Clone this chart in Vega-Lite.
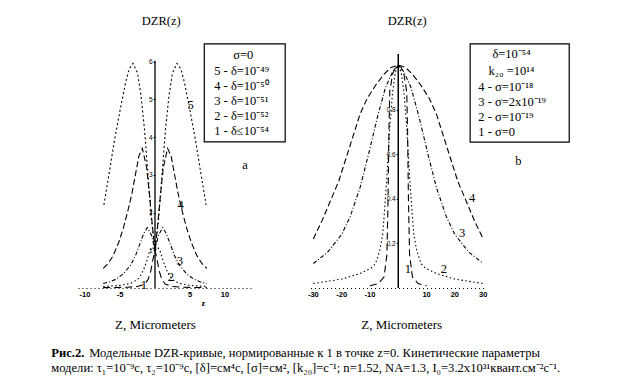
{
  "$schema": "https://vega.github.io/schema/vega-lite/v6.json",
  "background": "white",
  "padding": {"left": 51, "top": 14, "right": 10, "bottom": 10},
  "config": {"view": {"stroke": null}, "font": "Liberation Serif, Times New Roman, serif", "axis": {"grid": false}, "text": {"font": "Liberation Serif, Times New Roman, serif"}},
  "datasets": {
    "one": [{"k": 1}],
    "left": [
      {"z": -7.3, "v": 2.2, "c": "5"}, {"z": -6.5, "v": 3.1, "c": "5"}, {"z": -5.8, "v": 3.9, "c": "5"}, {"z": -5, "v": 4.7, "c": "5"}, {"z": -4.2, "v": 5.45, "c": "5"}, {"z": -3.7, "v": 5.8, "c": "5"}, {"z": -3.15, "v": 5.95, "c": "5"}, {"z": -2.5, "v": 5.7, "c": "5"}, {"z": -2, "v": 5.1, "c": "5"}, {"z": -1.5, "v": 4.2, "c": "5"}, {"z": -1, "v": 3.0, "c": "5"}, {"z": -0.5, "v": 1.8, "c": "5"}, {"z": 0, "v": 1, "c": "5"},
      {"z": 0.5, "v": 1.8, "c": "5"}, {"z": 1, "v": 3.0, "c": "5"}, {"z": 1.5, "v": 4.2, "c": "5"}, {"z": 2, "v": 5.1, "c": "5"}, {"z": 2.5, "v": 5.7, "c": "5"}, {"z": 3.15, "v": 5.95, "c": "5"}, {"z": 3.7, "v": 5.8, "c": "5"}, {"z": 4.2, "v": 5.45, "c": "5"}, {"z": 5, "v": 4.7, "c": "5"}, {"z": 5.8, "v": 3.9, "c": "5"}, {"z": 6.5, "v": 3.1, "c": "5"}, {"z": 7.3, "v": 2.2, "c": "5"},
      {"z": -7.4, "v": 0.52, "c": "4"}, {"z": -6.7, "v": 0.65, "c": "4"}, {"z": -6, "v": 0.85, "c": "4"}, {"z": -5.2, "v": 1.2, "c": "4"}, {"z": -4.5, "v": 1.6, "c": "4"}, {"z": -3.8, "v": 2.1, "c": "4"}, {"z": -3.3, "v": 2.5, "c": "4"}, {"z": -2.8, "v": 3.0, "c": "4"}, {"z": -2.3, "v": 3.5, "c": "4"}, {"z": -1.8, "v": 3.7, "c": "4"}, {"z": -1.2, "v": 3.2, "c": "4"}, {"z": -0.8, "v": 2.5, "c": "4"}, {"z": -0.4, "v": 1.7, "c": "4"}, {"z": 0, "v": 1, "c": "4"},
      {"z": 0.4, "v": 1.7, "c": "4"}, {"z": 0.8, "v": 2.5, "c": "4"}, {"z": 1.2, "v": 3.2, "c": "4"}, {"z": 1.8, "v": 3.7, "c": "4"}, {"z": 2.3, "v": 3.5, "c": "4"}, {"z": 2.8, "v": 3.0, "c": "4"}, {"z": 3.3, "v": 2.5, "c": "4"}, {"z": 3.8, "v": 2.1, "c": "4"}, {"z": 4.5, "v": 1.6, "c": "4"}, {"z": 5.2, "v": 1.2, "c": "4"}, {"z": 6, "v": 0.85, "c": "4"}, {"z": 6.7, "v": 0.65, "c": "4"}, {"z": 7.4, "v": 0.52, "c": "4"},
      {"z": -7.4, "v": 0.12, "c": "3"}, {"z": -6.5, "v": 0.16, "c": "3"}, {"z": -5.5, "v": 0.24, "c": "3"}, {"z": -4.5, "v": 0.38, "c": "3"}, {"z": -3.5, "v": 0.6, "c": "3"}, {"z": -2.8, "v": 0.85, "c": "3"}, {"z": -2.2, "v": 1.15, "c": "3"}, {"z": -1.6, "v": 1.45, "c": "3"}, {"z": -1.1, "v": 1.6, "c": "3"}, {"z": -0.5, "v": 1.4, "c": "3"}, {"z": 0, "v": 1, "c": "3"},
      {"z": 0.5, "v": 1.4, "c": "3"}, {"z": 1.1, "v": 1.6, "c": "3"}, {"z": 1.6, "v": 1.45, "c": "3"}, {"z": 2.2, "v": 1.15, "c": "3"}, {"z": 2.8, "v": 0.85, "c": "3"}, {"z": 3.5, "v": 0.6, "c": "3"}, {"z": 4.5, "v": 0.38, "c": "3"}, {"z": 5.5, "v": 0.24, "c": "3"}, {"z": 6.5, "v": 0.16, "c": "3"}, {"z": 7.4, "v": 0.12, "c": "3"},
      {"z": -7.4, "v": 0.04, "c": "2"}, {"z": -5, "v": 0.07, "c": "2"}, {"z": -3.5, "v": 0.12, "c": "2"}, {"z": -2.5, "v": 0.22, "c": "2"}, {"z": -2, "v": 0.35, "c": "2"}, {"z": -1.6, "v": 0.5, "c": "2"}, {"z": -1.2, "v": 0.7, "c": "2"}, {"z": -0.8, "v": 0.95, "c": "2"}, {"z": -0.4, "v": 1.08, "c": "2"}, {"z": 0, "v": 1, "c": "2"},
      {"z": 0.4, "v": 1.08, "c": "2"}, {"z": 0.8, "v": 0.95, "c": "2"}, {"z": 1.2, "v": 0.7, "c": "2"}, {"z": 1.6, "v": 0.5, "c": "2"}, {"z": 2, "v": 0.35, "c": "2"}, {"z": 2.5, "v": 0.22, "c": "2"}, {"z": 3.5, "v": 0.12, "c": "2"}, {"z": 5, "v": 0.07, "c": "2"}, {"z": 7.4, "v": 0.04, "c": "2"},
      {"z": -7.4, "v": 0.01, "c": "1"}, {"z": -4, "v": 0.02, "c": "1"}, {"z": -2.5, "v": 0.04, "c": "1"}, {"z": -1.5, "v": 0.1, "c": "1"}, {"z": -1, "v": 0.22, "c": "1"}, {"z": -0.6, "v": 0.45, "c": "1"}, {"z": -0.3, "v": 0.75, "c": "1"}, {"z": 0, "v": 1, "c": "1"},
      {"z": 0.3, "v": 0.75, "c": "1"}, {"z": 0.6, "v": 0.45, "c": "1"}, {"z": 1, "v": 0.22, "c": "1"}, {"z": 1.5, "v": 0.1, "c": "1"}, {"z": 2.5, "v": 0.04, "c": "1"}, {"z": 4, "v": 0.02, "c": "1"}, {"z": 7.4, "v": 0.01, "c": "1"}
    ],
    "right": [
      {"z": -30, "v": 0.22, "c": "4"}, {"z": -27, "v": 0.3, "c": "4"}, {"z": -24, "v": 0.39, "c": "4"}, {"z": -21, "v": 0.48, "c": "4"}, {"z": -18.5, "v": 0.58, "c": "4"}, {"z": -16, "v": 0.68, "c": "4"}, {"z": -13.5, "v": 0.78, "c": "4"}, {"z": -11, "v": 0.85, "c": "4"}, {"z": -8, "v": 0.91, "c": "4"}, {"z": -5, "v": 0.96, "c": "4"}, {"z": -2.5, "v": 0.99, "c": "4"}, {"z": 0, "v": 1, "c": "4"},
      {"z": 2.5, "v": 0.99, "c": "4"}, {"z": 5, "v": 0.96, "c": "4"}, {"z": 8, "v": 0.91, "c": "4"}, {"z": 11, "v": 0.85, "c": "4"}, {"z": 13.5, "v": 0.78, "c": "4"}, {"z": 16, "v": 0.68, "c": "4"}, {"z": 18.5, "v": 0.58, "c": "4"}, {"z": 21, "v": 0.48, "c": "4"}, {"z": 24, "v": 0.39, "c": "4"}, {"z": 27, "v": 0.3, "c": "4"}, {"z": 30, "v": 0.22, "c": "4"},
      {"z": -30, "v": 0.11, "c": "3"}, {"z": -25, "v": 0.16, "c": "3"}, {"z": -20, "v": 0.24, "c": "3"}, {"z": -17, "v": 0.32, "c": "3"}, {"z": -13.5, "v": 0.45, "c": "3"}, {"z": -10.5, "v": 0.6, "c": "3"}, {"z": -7.5, "v": 0.76, "c": "3"}, {"z": -4.5, "v": 0.9, "c": "3"}, {"z": -2, "v": 0.97, "c": "3"}, {"z": 0, "v": 1, "c": "3"},
      {"z": 2, "v": 0.97, "c": "3"}, {"z": 4.5, "v": 0.9, "c": "3"}, {"z": 7.5, "v": 0.76, "c": "3"}, {"z": 10.5, "v": 0.6, "c": "3"}, {"z": 13.5, "v": 0.45, "c": "3"}, {"z": 17, "v": 0.32, "c": "3"}, {"z": 20, "v": 0.24, "c": "3"}, {"z": 25, "v": 0.16, "c": "3"}, {"z": 30, "v": 0.11, "c": "3"},
      {"z": -30, "v": 0.02, "c": "2"}, {"z": -20, "v": 0.04, "c": "2"}, {"z": -13.5, "v": 0.065, "c": "2"}, {"z": -9.5, "v": 0.09, "c": "2"}, {"z": -8, "v": 0.11, "c": "2"}, {"z": -6.5, "v": 0.17, "c": "2"}, {"z": -5.5, "v": 0.24, "c": "2"}, {"z": -5, "v": 0.32, "c": "2"}, {"z": -4, "v": 0.5, "c": "2"}, {"z": -3, "v": 0.72, "c": "2"}, {"z": -2, "v": 0.88, "c": "2"}, {"z": -1, "v": 0.97, "c": "2"}, {"z": 0, "v": 1, "c": "2"},
      {"z": 1, "v": 0.97, "c": "2"}, {"z": 2, "v": 0.88, "c": "2"}, {"z": 3, "v": 0.72, "c": "2"}, {"z": 4, "v": 0.5, "c": "2"}, {"z": 5, "v": 0.32, "c": "2"}, {"z": 5.5, "v": 0.24, "c": "2"}, {"z": 6.5, "v": 0.17, "c": "2"}, {"z": 8, "v": 0.11, "c": "2"}, {"z": 9.5, "v": 0.09, "c": "2"}, {"z": 13.5, "v": 0.065, "c": "2"}, {"z": 20, "v": 0.04, "c": "2"}, {"z": 30, "v": 0.02, "c": "2"},
      {"z": -10, "v": 0.01, "c": "1"}, {"z": -7, "v": 0.02, "c": "1"}, {"z": -5, "v": 0.05, "c": "1"}, {"z": -4, "v": 0.15, "c": "1"}, {"z": -3.6, "v": 0.4, "c": "1"}, {"z": -3.3, "v": 0.7, "c": "1"}, {"z": -3, "v": 0.88, "c": "1"}, {"z": -2, "v": 0.96, "c": "1"}, {"z": -1, "v": 0.99, "c": "1"}, {"z": 0, "v": 1, "c": "1"},
      {"z": 1, "v": 0.99, "c": "1"}, {"z": 2, "v": 0.96, "c": "1"}, {"z": 3, "v": 0.88, "c": "1"}, {"z": 3.3, "v": 0.7, "c": "1"}, {"z": 3.6, "v": 0.4, "c": "1"}, {"z": 4, "v": 0.15, "c": "1"}, {"z": 5, "v": 0.05, "c": "1"}, {"z": 7, "v": 0.02, "c": "1"}, {"z": 10, "v": 0.01, "c": "1"}
    ],
    "leftTicks": [{"z": -10, "t": "-10"}, {"z": -5, "t": "-5"}, {"z": 5, "t": "5"}, {"z": 10, "t": "10"}],
    "rightTicks": [{"z": -30, "t": "-30"}, {"z": -20, "t": "-20"}, {"z": -10, "t": "-10"}, {"z": 10, "t": "10"}, {"z": 20, "t": "20"}, {"z": 30, "t": "30"}],
    "leftLabels": [
      {"z": 5.1, "v": 4.86, "t": "5"}, {"z": 3.67, "v": 2.2, "t": "4"}, {"z": 3.57, "v": 0.72, "t": "3"}, {"z": 2.26, "v": 0.29, "t": "2"}, {"z": -1.59, "v": 0.08, "t": "1"}, {"z": 12.86, "v": 3.26, "t": "a"}
    ],
    "rightLabels": [
      {"z": 26.1, "v": 0.404, "t": "4"}, {"z": 22.6, "v": 0.247, "t": "3"}, {"z": 16.1, "v": 0.0875, "t": "2"}, {"z": 3.36, "v": 0.0875, "t": "1"}, {"z": 42.4, "v": 0.568, "t": "b"}
    ]
  },
  "bounds": "flush",
  "spacing": 57.5,
  "hconcat": [
    {
      "width": 175, "height": 234,
      "layer": [
        {
          "data": {"name": "left"},
          "mark": {"type": "line", "strokeWidth": 1.1, "color": "black", "clip": false},
          "encoding": {
            "x": {"field": "z", "type": "quantitative",
              "scale": {"domain": [-11, 14], "nice": false, "zero": false},
              "axis": {"labels": false, "ticks": false, "title": "Z, Micrometers", "titleX": 77, "titleY": 36, "titleBaseline": "middle", "titleAlign": "center", "titleFont": "Liberation Serif, Times New Roman, serif", "titleFontSize": 13, "titleFontWeight": "normal", "titleColor": "black", "domain": true, "domainDash": [1, 3], "domainColor": "black", "domainWidth": 1.2, "grid": false}},
            "y": {"field": "v", "type": "quantitative",
              "scale": {"domain": [0, 6.2], "nice": false, "zero": false},
              "axis": {"values": [1, 2, 3, 4, 5, 6], "labelOverlap": false, "offset": -77, "domain": false, "ticks": true, "tickSize": 2, "tickColor": "black", "labelFont": "Liberation Sans, Arial, sans-serif", "labelFontSize": 6.5, "labelColor": "black", "labelPadding": 1, "title": null, "grid": false}},
            "detail": {"field": "c"},
            "strokeDash": {"field": "c", "type": "nominal", "legend": null,
              "scale": {"domain": ["1", "2", "3", "4", "5"], "range": [[7, 4], [1.5, 2.5], [4, 2, 1, 2], [6, 3], [2, 2.5]]}}
          }
        },
        {
          "data": {"name": "one"},
          "mark": {"type": "rule", "strokeWidth": 1.3, "color": "black"},
          "encoding": {"x": {"datum": 0}, "y": {"datum": 0}, "y2": {"datum": 6.02}}
        },
        {
          "data": {"name": "leftTicks"},
          "mark": {"type": "text", "font": "Liberation Sans, Arial, sans-serif", "fontSize": 7.5, "fontWeight": "bold", "color": "black", "baseline": "middle"},
          "encoding": {"x": {"field": "z", "type": "quantitative"}, "y": {"datum": -0.185}, "text": {"field": "t"}}
        },
        {
          "data": {"name": "one"},
          "mark": {"type": "rect", "fill": null, "stroke": "black", "strokeWidth": 1.2, "clip": false},
          "encoding": {"x": {"datum": 7.04}, "x2": {"datum": 18.6}, "y": {"datum": 6.47}, "y2": {"datum": 3.87}}
        },
        {
          "data": {"name": "one"},
          "mark": {"type": "text", "text": "σ=0", "font": "Liberation Serif, Times New Roman, serif", "fontSize": 12.5, "align": "center", "baseline": "alphabetic", "color": "black"},
          "encoding": {"x": {"datum": 12.6}, "y": {"datum": 6.08}}
        },
        {
          "data": {"name": "one"},
          "mark": {"type": "text", "text": ["5 - δ=10⁻⁴⁹", "4 - δ=10⁻⁵⁰", "3 - δ=10⁻⁵¹", "2 - δ=10⁻⁵²", "1 - δ≤10⁻⁵⁴"], "lineHeight": 15, "font": "Liberation Serif, Times New Roman, serif", "fontSize": 12.5, "align": "left", "baseline": "alphabetic", "color": "black"},
          "encoding": {"x": {"datum": 8.46}, "y": {"datum": 5.64}}
        },
        {
          "data": {"name": "one"},
          "mark": {"type": "text", "text": "z", "font": "Liberation Serif, Times New Roman, serif", "fontSize": 8, "fontWeight": "bold", "color": "black"},
          "encoding": {"x": {"datum": 6.9}, "y": {"datum": -0.42}}
        },
        {
          "data": {"name": "one"},
          "mark": {"type": "text", "text": "DZR(z)", "font": "Liberation Serif, Times New Roman, serif", "fontSize": 12.5, "align": "center", "baseline": "top", "color": "black"},
          "encoding": {"x": {"datum": 0.89}, "y": {"datum": 7.234}}
        },
        {
          "data": {"name": "leftLabels"},
          "mark": {"type": "text", "font": "Liberation Serif, Times New Roman, serif", "fontSize": 12.5, "color": "black", "baseline": "middle"},
          "encoding": {"x": {"field": "z", "type": "quantitative"}, "y": {"field": "v", "type": "quantitative"}, "text": {"field": "t"}}
        },
        {
          "data": {"name": "one"},
          "mark": {"type": "text", "text": "Рис.2.", "font": "Liberation Serif, Times New Roman, serif", "fontSize": 12.6, "fontWeight": "bold", "align": "left", "baseline": "middle", "color": "black"},
          "encoding": {"x": {"datum": -14.83}, "y": {"datum": -1.722}}
        },
        {
          "data": {"name": "one"},
          "mark": {"type": "text", "text": "Модельные   DZR-кривые,   нормированные   к   1   в   точке   z=0.   Кинетические   параметры", "font": "Liberation Serif, Times New Roman, serif", "fontSize": 12.6, "align": "left", "baseline": "middle", "color": "black"},
          "encoding": {"x": {"datum": -9.4}, "y": {"datum": -1.722}}
        },
        {
          "data": {"name": "one"},
          "mark": {"type": "text", "text": "модели:  τ₁=10⁻⁹с,  τ₂=10⁻⁹с, [δ]=см⁴с, [σ]=см², [k₂₀]=с⁻¹;  n=1.52, NA=1.3, I₀=3.2x10³¹квант.см⁻²с⁻¹.", "font": "Liberation Serif, Times New Roman, serif", "fontSize": 12.6, "align": "left", "baseline": "middle", "color": "black"},
          "encoding": {"x": {"datum": -14.83}, "y": {"datum": -2.12}}
        }
      ]
    },
    {
      "width": 175.5, "height": 234,
      "layer": [
        {
          "data": {"name": "right"},
          "mark": {"type": "line", "strokeWidth": 1.1, "color": "black", "clip": false},
          "encoding": {
            "x": {"field": "z", "type": "quantitative",
              "scale": {"domain": [-31, 31], "nice": false, "zero": false},
              "axis": {"labels": false, "ticks": false, "title": "Z, Micrometers", "titleX": 90.7, "titleY": 36, "titleBaseline": "middle", "titleAlign": "center", "titleFont": "Liberation Serif, Times New Roman, serif", "titleFontSize": 13, "titleFontWeight": "normal", "titleColor": "black", "domain": true, "domainDash": [1, 3], "domainColor": "black", "domainWidth": 1.2, "grid": false}},
            "y": {"field": "v", "type": "quantitative",
              "scale": {"domain": [0, 1.05], "nice": false, "zero": false},
              "axis": {"values": [0.2, 0.4, 0.6, 0.8], "labelOverlap": false, "format": ".1f", "offset": -87.7, "domain": false, "ticks": true, "tickSize": 2, "tickColor": "black", "labelFont": "Liberation Sans, Arial, sans-serif", "labelFontSize": 6.5, "labelColor": "black", "labelPadding": 1, "title": null, "grid": false}},
            "detail": {"field": "c"},
            "strokeDash": {"field": "c", "type": "nominal", "legend": null,
              "scale": {"domain": ["1", "2", "3", "4"], "range": [[10, 5], [6, 4], [4, 2, 1, 2], [1.5, 2.5]]}}
          }
        },
        {
          "data": {"name": "one"},
          "mark": {"type": "rule", "strokeWidth": 1.5, "color": "black"},
          "encoding": {"x": {"datum": 0}, "y": {"datum": 0}, "y2": {"datum": 1.05}}
        },
        {
          "data": {"name": "rightTicks"},
          "mark": {"type": "text", "font": "Liberation Sans, Arial, sans-serif", "fontSize": 7.5, "fontWeight": "bold", "color": "black", "baseline": "middle"},
          "encoding": {"x": {"field": "z", "type": "quantitative"}, "y": {"datum": -0.0314}, "text": {"field": "t"}}
        },
        {
          "data": {"name": "one"},
          "mark": {"type": "rect", "fill": null, "stroke": "black", "strokeWidth": 1.2, "clip": false},
          "encoding": {"x": {"datum": 25.4}, "x2": {"datum": 60.4}, "y": {"datum": 1.095}, "y2": {"datum": 0.655}}
        },
        {
          "data": {"name": "one"},
          "mark": {"type": "text", "text": ["δ=10⁻⁵⁴", "k₂₀ =10¹⁴"], "lineHeight": 16.5, "font": "Liberation Serif, Times New Roman, serif", "fontSize": 12.5, "align": "center", "baseline": "alphabetic", "color": "black"},
          "encoding": {"x": {"datum": 40}, "y": {"datum": 1.03}}
        },
        {
          "data": {"name": "one"},
          "mark": {"type": "text", "text": ["4 - σ=10⁻¹⁸", "3 - σ=2x10⁻¹⁹", "2 - σ=10⁻¹⁹", "1 - σ=0"], "lineHeight": 15, "font": "Liberation Serif, Times New Roman, serif", "fontSize": 12.5, "align": "left", "baseline": "alphabetic", "color": "black"},
          "encoding": {"x": {"datum": 28.3}, "y": {"datum": 0.886}}
        },
        {
          "data": {"name": "one"},
          "mark": {"type": "text", "text": "DZR(z)", "font": "Liberation Serif, Times New Roman, serif", "fontSize": 12.5, "align": "center", "baseline": "top", "color": "black"},
          "encoding": {"x": {"datum": 3.18}, "y": {"datum": 1.225}}
        },
        {
          "data": {"name": "rightLabels"},
          "mark": {"type": "text", "font": "Liberation Serif, Times New Roman, serif", "fontSize": 12.5, "color": "black", "baseline": "middle"},
          "encoding": {"x": {"field": "z", "type": "quantitative"}, "y": {"field": "v", "type": "quantitative"}, "text": {"field": "t"}}
        }
      ]
    }
  ]
}
